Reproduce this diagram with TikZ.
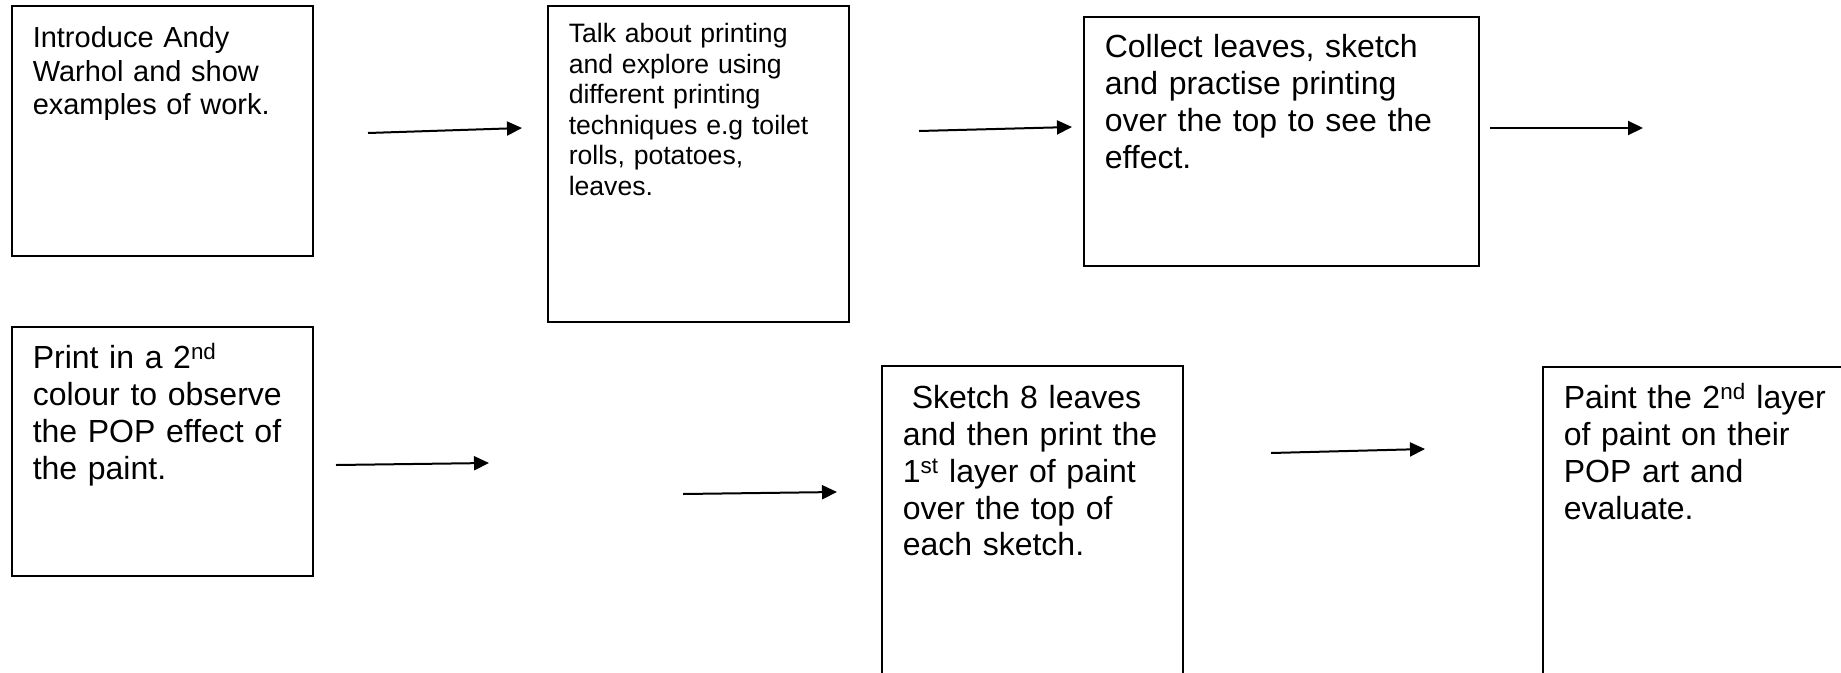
\documentclass[tikz,border=0pt]{standalone}
\usepackage{fontspec}
\setmainfont{Liberation Sans}
\usepackage{tikz}
\usetikzlibrary{arrows.meta}

\begin{document}
\begin{tikzpicture}[x=1pt, y=-1pt,
  etape/.style={draw, line width=1.5pt, anchor=north west, align=left,
                inner xsep=21pt, inner ysep=0pt, text width=259pt,
                text height=42pt, font=\fontsize{32}{36.8}\selectfont},
  fleche/.style={-{Triangle[length=15pt,width=14pt]}, line width=2pt}]

  \useasboundingbox (0,0) rectangle (1841,672);
  \clip (0,0) rectangle (1841,672);

  % first row
  \node[etape, font=\fontsize{29}{33.3}\selectfont, text depth=208pt] (E1) at (11,5)
    {Introduce Andy\\Warhol and show\\examples of work.};
  \node[etape, font=\fontsize{26.6}{30.5}\selectfont, text height=37pt, text depth=279pt]
    (E2) at (547,5)
    {Talk about printing\\and explore using\\different printing\\techniques e.g toilet\\rolls, potatoes,\\leaves.};
  \node[etape, text width=353pt, text height=41pt, text depth=208pt] (E3) at (1083,16)
    {Collect leaves, sketch\\and practise printing\\over the top to see the\\effect.};

  % second row
  \node[etape, text depth=207pt] (E4) at (11,326)
    {Print in a 2\textsuperscript{nd}\\colour to observe\\the POP effect of\\the paint.};
  \node[etape, text height=43pt, text depth=400pt] (E5) at (881,365)
    {\hspace*{9pt}Sketch 8 leaves\\and then print the\\1\textsuperscript{st} layer of paint\\over the top of\\each sketch.};
  \node[etape, text width=300pt, text depth=400pt] (E6) at (1542,366)
    {Paint the 2\textsuperscript{nd} layer\\of paint on their\\POP art and\\evaluate.};

  % free arrows
  \coordinate (F1a) at (368,133);  \coordinate (F1b) at (522,128);
  \coordinate (F2a) at (919,131);  \coordinate (F2b) at (1072,127);
  \coordinate (F3a) at (1490,128); \coordinate (F3b) at (1643,128);
  \coordinate (F4a) at (336,465);  \coordinate (F4b) at (489,463);
  \coordinate (F5a) at (683,494);  \coordinate (F5b) at (837,492);
  \coordinate (F6a) at (1271,453); \coordinate (F6b) at (1425,449);

  \foreach \i in {1,...,6}
    \draw[fleche] (F\i a) -- (F\i b);
\end{tikzpicture}
\end{document}
